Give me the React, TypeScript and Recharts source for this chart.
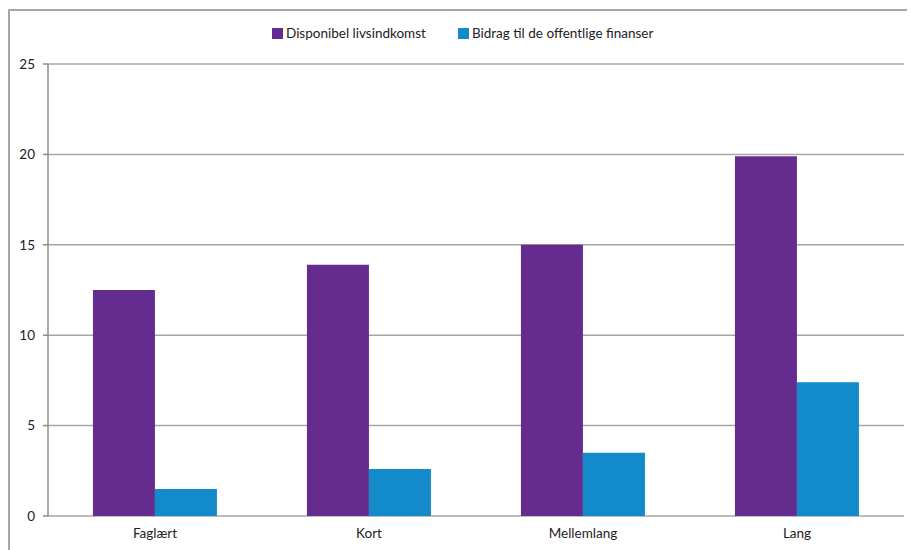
import React from "react";
import { BarChart, Bar, XAxis, YAxis, CartesianGrid } from "recharts";

const categories = ["Faglært", "Kort", "Mellemlang", "Lang"];
const disponibel = [12.5, 13.9, 15.0, 19.9];
const bidrag = [1.5, 2.6, 3.5, 7.4];
const yTicks = [0, 5, 10, 15, 20, 25];
const seriesNames = ["Disponibel livsindkomst", "Bidrag til de offentlige finanser"];
const colors = ["#652C8F", "#138BCB"];

const data = categories.map((c, i) => ({
  name: c,
  idx: i,
  disponibel: disponibel[i],
  bidrag: bidrag[i],
}));

const FONT = "Lato, 'Liberation Sans', sans-serif";

const LegendContent = () => (
  <div style={{ position: "absolute", top: 14, left: 262, display: "flex", alignItems: "center", fontFamily: FONT, fontSize: 13.5, color: "#222", whiteSpace: "nowrap" }}>
    {seriesNames.map((n, i) => (
      <div key={n} style={{ display: "flex", alignItems: "center", marginRight: i === 0 ? 32 : 0 }}>
        <span style={{ display: "inline-block", width: 11, height: 11, background: colors[i], marginRight: 3 }} />
        <span>{n}</span>
      </div>
    ))}
  </div>
);

export default function App() {
  return (
    <div style={{ position: "relative", borderTop: "2px solid #a6a6a6", borderLeft: "2px solid #a6a6a6", width: 905, height: 540, marginTop: 1 }}>
      <LegendContent />
      <BarChart
        width={905}
        height={539}
        data={data}
        margin={{ top: 53, right: 11, bottom: 4, left: 8 }}
        barCategoryGap="21%"
        barGap={0}
      >
        <CartesianGrid vertical={false} stroke="#a6a6a6" strokeWidth={1.5} />
        <XAxis
          xAxisId="ticks"
          type="number"
          dataKey="idx"
          domain={[0, 4]}
          ticks={[0, 1, 2, 3, 4]}
          height={0}
          axisLine={{ stroke: "#8c8c8c", strokeWidth: 1.5 }}
          tickLine={{ stroke: "#8c8c8c", strokeWidth: 1.5 }}
          tickSize={7}
          tick={() => <g />}
        />
        <XAxis
          xAxisId="cat"
          dataKey="name"
          height={30}
          axisLine={false}
          tickLine={false}
          tickSize={0}
          tickMargin={12}
          tick={{ fontFamily: FONT, fontSize: 13.5, fill: "#222" }}
        />
        <YAxis
          width={30}
          domain={[0, 25]}
          ticks={yTicks}
          axisLine={{ stroke: "#8c8c8c", strokeWidth: 1.5 }}
          tickLine={{ stroke: "#8c8c8c", strokeWidth: 1.5 }}
          tickSize={5}
          tickMargin={8}
          tick={{ fontFamily: FONT, fontSize: 13.5, fill: "#222" }}
        />
        <Bar xAxisId="cat" dataKey="disponibel" name={seriesNames[0]} fill={colors[0]} isAnimationActive={false} />
        <Bar xAxisId="cat" dataKey="bidrag" name={seriesNames[1]} fill={colors[1]} isAnimationActive={false} />
      </BarChart>
    </div>
  );
}
